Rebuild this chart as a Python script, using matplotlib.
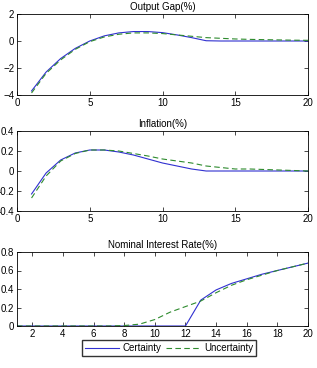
import numpy as np
import matplotlib.pyplot as plt

plt.rcParams['font.family'] = ['Liberation Sans', 'DejaVu Sans']
plt.rcParams['font.size'] = 7

t = np.arange(1, 21)

gap_cert = [-3.7, -2.3, -1.3, -0.55, 0.0, 0.38, 0.6, 0.7, 0.7, 0.62,
            0.45, 0.25, 0.02, 0.0, 0.0, 0.0, 0.0, 0.0, 0.0, 0.0]
gap_unc = [-3.85, -2.4, -1.4, -0.62, -0.05, 0.3, 0.5, 0.6, 0.6, 0.55,
           0.45, 0.35, 0.25, 0.2, 0.15, 0.12, 0.1, 0.08, 0.06, 0.05]

inf_cert = [-0.23, -0.02, 0.11, 0.18, 0.21, 0.21, 0.19, 0.16, 0.12, 0.08,
            0.05, 0.02, 0.0, 0.0, 0.0, 0.0, 0.0, 0.0, 0.0, 0.0]
inf_unc = [-0.27, -0.05, 0.10, 0.175, 0.21, 0.21, 0.2, 0.175, 0.15, 0.12,
           0.1, 0.08, 0.05, 0.035, 0.02, 0.02, 0.015, 0.01, 0.005, 0.0]

rate_cert = [0, 0, 0, 0, 0, 0, 0, 0, 0, 0,
             0, 0, 0.28, 0.39, 0.46, 0.51, 0.56, 0.60, 0.64, 0.68]
rate_unc = [0, 0, 0, 0, 0, 0, 0, 0.005, 0.02, 0.07,
            0.15, 0.21, 0.27, 0.36, 0.44, 0.50, 0.55, 0.60, 0.64, 0.68]

blue = '#3030d0'
green = '#2e8b2e'

fig = plt.figure(figsize=(3.17, 3.68), dpi=100)
W, H = 317.0, 368.0

def add_ax(top, bottom):
    return fig.add_axes([17 / W, 1 - bottom / H, (308 - 17) / W, (bottom - top) / H])

ax1 = add_ax(14, 95)
ax2 = add_ax(131, 211)
ax3 = add_ax(252, 326)

for ax in (ax1, ax2, ax3):
    ax.tick_params(direction='in', length=3, width=0.5, top=True, right=True, pad=2)
    for s in ax.spines.values():
        s.set_linewidth(0.6)

ax1.plot(t, gap_cert, color=blue, lw=0.8)
ax1.plot(t, gap_unc, color=green, lw=0.8, dashes=(5, 3))
ax1.set_xlim(0, 20)
ax1.set_ylim(-4, 2)
ax1.set_xticks([0, 5, 10, 15, 20])
ax1.set_yticks([-4, -2, 0, 2])
ax1.set_title('Output Gap(%)', fontsize=7, pad=3)

ax2.plot(t, inf_cert, color=blue, lw=0.8)
ax2.plot(t, inf_unc, color=green, lw=0.8, dashes=(5, 3))
ax2.set_xlim(0, 20)
ax2.set_ylim(-0.4, 0.4)
ax2.set_xticks([0, 5, 10, 15, 20])
ax2.set_yticks([-0.4, -0.2, 0, 0.2, 0.4])
ax2.set_yticklabels(['-0.4', '-0.2', '0', '0.2', '0.4'])
ax2.set_title('Inflation(%)', fontsize=7, pad=3)

l1, = ax3.plot(t, rate_cert, color=blue, lw=0.8)
l2, = ax3.plot(t, rate_unc, color=green, lw=0.8, dashes=(5, 3))
ax3.set_xlim(1, 20)
ax3.set_ylim(0, 0.8)
ax3.set_xticks(np.arange(2, 21, 2))
ax3.set_yticks([0, 0.2, 0.4, 0.6, 0.8])
ax3.set_yticklabels(['0', '0.2', '0.4', '0.6', '0.8'])
ax3.set_title('Nominal Interest Rate(%)', fontsize=7, pad=3)

fig.legend([l1, l2], ['Certainty', 'Uncertainty'], loc='center',
           bbox_to_anchor=(169 / W, 1 - 348 / H), ncol=2, fontsize=7,
           frameon=True, fancybox=False, edgecolor='black', handlelength=3.5,
           columnspacing=0.5, handletextpad=0.4, borderpad=0.3)

fig.savefig('out.png', dpi=100)
